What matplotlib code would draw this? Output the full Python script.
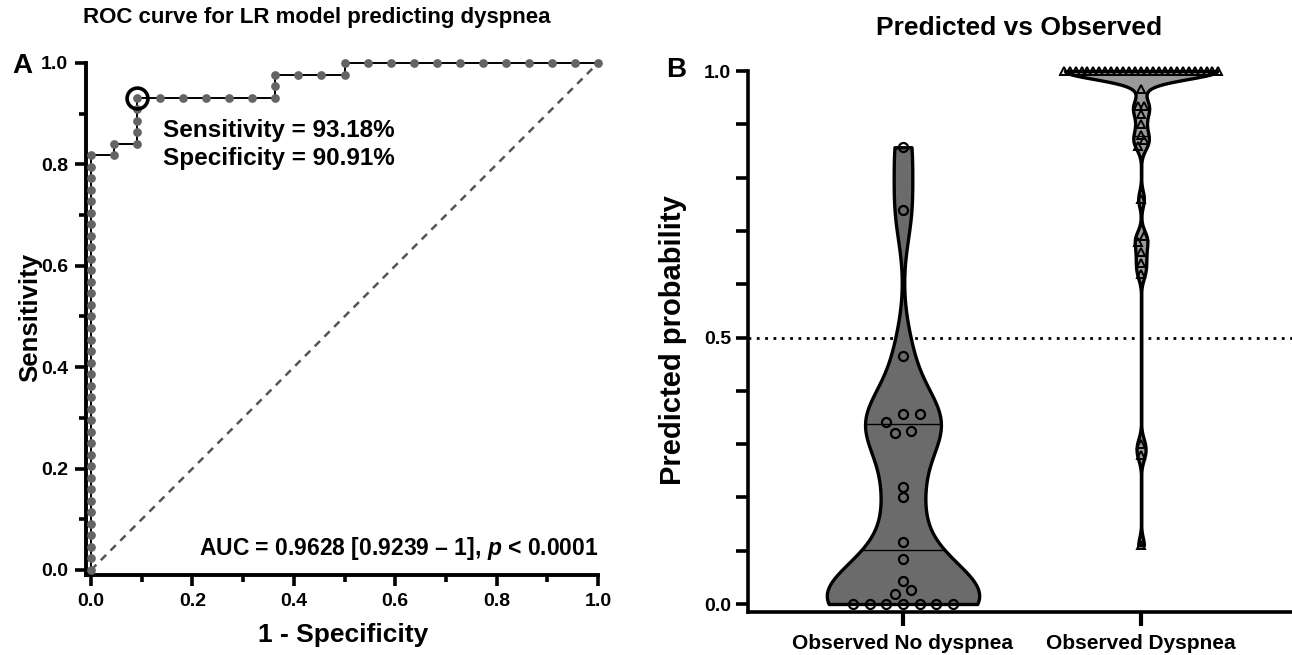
import matplotlib
matplotlib.use("Agg")
import matplotlib.pyplot as plt
import numpy as np
from matplotlib.ticker import MultipleLocator, FormatStrFormatter

# ROC points as counts: false positives out of 22 controls, true positives out of 44 cases
n_neg, n_pos = 22, 44
roc_fp = [0, 0, 0, 0, 0, 0, 0, 0, 0, 0, 0, 0, 0, 0, 0, 0, 0, 0, 0, 0,
          0, 0, 0, 0, 0, 0, 0, 0, 0, 0, 0, 0, 0, 0, 0, 0, 0,
          1, 1, 2, 2, 2, 2, 2, 3, 4, 5, 6, 7, 8, 8, 8, 9, 10, 11, 11,
          12, 13, 14, 15, 16, 17, 18, 19, 20, 21, 22]
roc_tp = [0, 1, 2, 3, 4, 5, 6, 7, 8, 9, 10, 11, 12, 13, 14, 15, 16, 17, 18, 19,
          20, 21, 22, 23, 24, 25, 26, 27, 28, 29, 30, 31, 32, 33, 34, 35, 36,
          36, 37, 37, 38, 39, 40, 41, 41, 41, 41, 41, 41, 41, 42, 43, 43, 43, 43, 44,
          44, 44, 44, 44, 44, 44, 44, 44, 44, 44, 44]
best_fp, best_tp = 2, 41

# predicted probabilities per observed group
groups = ["Observed No dyspnea", "Observed Dyspnea"]
prob_no = [0.0, 0.0, 0.0, 0.0, 0.0, 0.0, 0.0, 0.019, 0.026, 0.043, 0.084,
           0.117, 0.20, 0.22, 0.32, 0.325, 0.342, 0.356, 0.356, 0.465, 0.74, 0.857]
prob_yes = [0.11, 0.28, 0.30, 0.62, 0.64, 0.66, 0.68, 0.69, 0.76, 0.86, 0.87,
            0.88, 0.90, 0.92, 0.935, 0.935, 0.966,
            1.0, 1.0, 1.0, 1.0, 1.0, 1.0, 1.0, 1.0, 1.0, 1.0, 1.0, 1.0, 1.0, 1.0,
            1.0, 1.0, 1.0, 1.0, 1.0, 1.0, 1.0, 1.0, 1.0, 1.0, 1.0, 1.0, 1.0]

plt.rcParams["font.family"] = ["Liberation Sans", "DejaVu Sans"]
plt.rcParams["font.weight"] = "bold"
plt.rcParams["mathtext.fontset"] = "custom"
plt.rcParams["mathtext.it"] = "Liberation Sans:italic:bold"
plt.rcParams["mathtext.rm"] = "Liberation Sans:bold"

W, H = 1292, 655
fig = plt.figure(figsize=(W / 100, H / 100), dpi=100)


def fx(px):
    return px / W


def fy(py):
    return 1 - py / H


# ---------------- panel A: ROC ----------------
axA = fig.add_axes([fx(86), fy(575), 512 / W, 512 / H])
axA.set_xlim(-0.01, 1.0)
axA.set_ylim(-0.01, 1.0)

fpr = np.array(roc_fp) / n_neg
tpr = np.array(roc_tp) / n_pos
axA.plot([0, 1], [0, 1], ls=(0, (3, 2.5)), color="#555555", lw=1.8, zorder=1)
axA.plot(fpr, tpr, color="black", lw=1.4, zorder=2, clip_on=False)
axA.plot(fpr, tpr, "o", ms=6.3, color="#646464", mec="none", zorder=3, clip_on=False)
axA.plot(best_fp / n_neg, best_tp / n_pos, "o", ms=15, mfc="none", mec="black",
         mew=2.6, zorder=4, clip_on=False)

for s in ["top", "right"]:
    axA.spines[s].set_visible(False)
for s in ["left", "bottom"]:
    axA.spines[s].set_linewidth(2.8)
axA.xaxis.set_major_locator(MultipleLocator(0.2))
axA.xaxis.set_minor_locator(MultipleLocator(0.1))
axA.yaxis.set_major_locator(MultipleLocator(0.2))
axA.yaxis.set_minor_locator(MultipleLocator(0.1))
axA.xaxis.set_major_formatter(FormatStrFormatter("%.1f"))
axA.yaxis.set_major_formatter(FormatStrFormatter("%.1f"))
axA.tick_params(which="major", length=8, width=2.6, labelsize=14, pad=5)
axA.tick_params(which="minor", length=5, width=2.6)

fig.text(fx(317), fy(18), "ROC curve for LR model predicting dyspnea",
         ha="center", va="center", fontsize=16)
fig.text(fx(343), fy(635), "1 - Specificity", ha="center", va="center", fontsize=19)
fig.text(fx(30), fy(317), "Sensitivity", ha="center", va="center",
         rotation=90, fontsize=18.5)
fig.text(fx(22), fy(66), "A", ha="center", va="center", fontsize=20)
fig.text(fx(163), fy(131), f"Sensitivity = {best_tp / n_pos * 100:.2f}%",
         ha="left", va="center", fontsize=17.5)
fig.text(fx(163), fy(158), f"Specificity = {(1 - best_fp / n_neg) * 100:.2f}%",
         ha="left", va="center", fontsize=17.5)
fig.text(fx(598), fy(548), r"AUC = 0.9628 [0.9239 – 1], $p$ < 0.0001",
         ha="right", va="center", fontsize=16.5)

# ---------------- panel B: violins ----------------
axB = fig.add_axes([fx(748), fy(612), (W - 748) / W, 541 / H])
axB.set_xlim(-0.651, 1.634)
axB.set_ylim(-0.015, 1.0)

axB.axhline(0.5, ls=(0, (1, 2)), color="black", lw=2, zorder=1)


def kde(vals, bw, n=400):
    ys = np.linspace(vals.min(), vals.max(), n)
    d = np.exp(-0.5 * ((ys[:, None] - vals[None, :]) / bw) ** 2).sum(axis=1)
    return ys, d / d.max()


def swarm(vals, tol, spacing):
    order = np.argsort(vals, kind="stable")
    offs = np.zeros(len(vals))
    i = 0
    while i < len(order):
        j = i
        while j < len(order) and vals[order[j]] - vals[order[i]] <= tol:
            j += 1
        grp = order[i:j]
        offs[grp] = (np.arange(len(grp)) - (len(grp) - 1) / 2) * spacing
        i = j
    return offs


settings = [
    (np.array(prob_no), 0.062, "#6b6b6b", "o", 6.5, 1.6, 0.07),
    (np.array(prob_yes), 0.015, "#9a9a9a", "^", 6, 1.4, 0.025),
]
half_w = 0.32
for k, (vals, bw, fc, mk, ms, mew, sp) in enumerate(settings):
    ys, d = kde(vals, bw)
    axB.fill_betweenx(ys, k - half_w * d, k + half_w * d, facecolor=fc,
                      edgecolor="black", lw=2.4, zorder=2, clip_on=False)
    for q in np.percentile(vals, [25, 50, 75]):
        wq = half_w * np.interp(q, ys, d)
        axB.plot([k - wq, k + wq], [q, q], color="black", lw=1, zorder=3)
    offs = swarm(vals, 0.015, sp)
    axB.plot(k + offs, vals, mk, ms=ms, mfc="none", mec="black", mew=mew,
             ls="none", zorder=4, clip_on=False)

for s in ["top", "right"]:
    axB.spines[s].set_visible(False)
for s in ["left", "bottom"]:
    axB.spines[s].set_linewidth(2.6)
axB.set_xticks([0, 1])
axB.set_xticklabels(groups, fontsize=15)
axB.yaxis.set_major_locator(MultipleLocator(0.5))
axB.yaxis.set_minor_locator(MultipleLocator(0.1))
axB.yaxis.set_major_formatter(FormatStrFormatter("%.1f"))
axB.tick_params(axis="x", length=10, width=3, pad=6)
axB.tick_params(axis="y", which="major", length=9, width=2.6, labelsize=14, pad=3)
axB.tick_params(axis="y", which="minor", length=9, width=2.6)

fig.text(fx(1019), fy(28), "Predicted vs Observed", ha="center", va="center", fontsize=19)
fig.text(fx(673), fy(340), "Predicted probability", ha="center", va="center",
         rotation=90, fontsize=21)
fig.text(fx(676), fy(70), "B", ha="center", va="center", fontsize=20)

fig.savefig("out.png", dpi=100)
